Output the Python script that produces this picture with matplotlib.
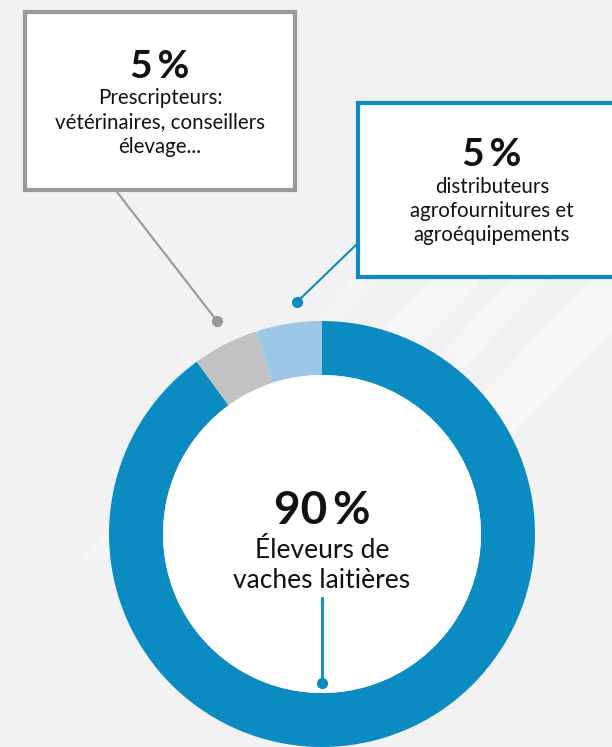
import matplotlib
matplotlib.use("Agg")
import matplotlib.pyplot as plt
from matplotlib.patches import Rectangle, Polygon, Circle

# Data
categories = ["Éleveurs de vaches laitières", "Prescripteurs", "Distributeurs"]
values = [90, 5, 5]
colors = ["#0a8bc2", "#c2c2c2", "#9cc7e6"]
pct_labels = ["90\u2009%", "5\u2009%", "5\u2009%"]
desc_labels = ["Éleveurs de\nvaches laitières",
               "Prescripteurs:\nvétérinaires, conseillers\nélevage...",
               "distributeurs\nagrofournitures et\nagroéquipements"]

W, H = 612, 747
BG = "#f2f2f2"
fig = plt.figure(figsize=(W / 100, H / 100), dpi=100)
fig.patch.set_facecolor(BG)
ax = fig.add_axes([0, 0, 1, 1])
ax.set_facecolor(BG)

def Y(y):
    return H - y

# subtle background stripes
for (x0, w, a) in [(560, 50, 0.45), (640, 35, 0.35), (480, 25, 0.3), (720, 70, 0.4)]:
    ax.add_patch(Polygon([(x0, Y(150)), (x0 + w, Y(150)), (x0 + w - 400, Y(560)), (x0 - 400, Y(560))],
                         closed=True, facecolor="white", edgecolor="none", alpha=a, zorder=0))

cx, cy, R, ring = 322, Y(534), 213, 54
ax.pie(values, colors=colors, startangle=90, counterclock=False, center=(cx, cy), radius=R,
       wedgeprops=dict(width=ring, edgecolor="none"))
ax.add_patch(Circle((cx, cy), R - ring, facecolor="white", edgecolor="none", zorder=1))

font = "Lato"
txt = "#111111"
# center text
ax.text(cx, Y(511), pct_labels[0], ha="center", va="center", fontsize=33, fontweight="bold",
        family=font, color=txt, zorder=5)
ax.text(cx, Y(550), "Éleveurs de", ha="center", va="center", fontsize=19, family=font, color=txt, zorder=5)
ax.text(cx, Y(581), "vaches laitières", ha="center", va="center", fontsize=19, family=font, color=txt, zorder=5)
ax.plot([cx, cx], [Y(598), Y(683)], color="#0a8bc2", lw=2, zorder=5)
ax.plot(cx, Y(683), "o", color="#0a8bc2", ms=7, zorder=5)

# box 1 (grey)
ax.add_patch(Rectangle((25, Y(190)), 270, 178, facecolor="white", edgecolor="#999999", lw=3, zorder=4))
ax.text(160, Y(67), pct_labels[1], ha="center", va="center", fontsize=28, fontweight="bold",
        family=font, color=txt, zorder=5)
for i, line in enumerate(desc_labels[1].split("\n")):
    ax.text(160, Y(98 + 24.5 * i), line, ha="center", va="center", fontsize=14.8, family=font,
            color=txt, zorder=5)
ax.plot([117, 217], [Y(192), Y(321)], color="#999999", lw=1.5, zorder=3)
ax.plot(217, Y(321), "o", color="#999999", ms=7, zorder=5)

# box 2 (blue)
ax.add_patch(Rectangle((358, Y(277)), 300, 174, facecolor="white", edgecolor="#0a8bc2", lw=3, zorder=4))
ax.text(492, Y(155), pct_labels[2], ha="center", va="center", fontsize=28, fontweight="bold",
        family=font, color=txt, zorder=5)
for i, line in enumerate(desc_labels[2].split("\n")):
    ax.text(492, Y(187 + 24 * i), line, ha="center", va="center", fontsize=14.8, family=font,
            color=txt, zorder=5)
ax.plot([358, 297], [Y(243), Y(302)], color="#0a8bc2", lw=1.5, zorder=3)
ax.plot(297, Y(302), "o", color="#0a8bc2", ms=7, zorder=5)

ax.set_xlim(0, W)
ax.set_ylim(0, H)
ax.set_aspect("auto")
ax.axis("off")
fig.savefig("out.png", dpi=100, facecolor=fig.get_facecolor())
